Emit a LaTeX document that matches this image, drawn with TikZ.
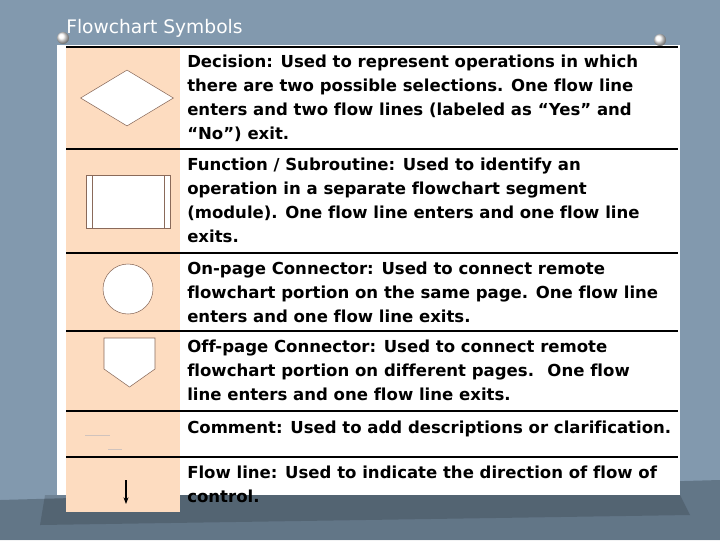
\documentclass[tikz,border=0pt]{standalone}
\usepackage{fontspec}
\setmainfont[Ligatures={NoCommon}]{DejaVu Sans}
\usetikzlibrary{shapes.geometric,arrows.meta}
\definecolor{slate}{HTML}{8299AE}
\definecolor{slatedark}{HTML}{4E5F6E}
\definecolor{peach}{HTML}{FDDCC0}
\definecolor{edgebrown}{HTML}{8A6A5A}
\begin{document}
\begin{tikzpicture}[x=0.75pt,y=-0.75pt,
    symbol/.style={draw=edgebrown,fill=white,line width=0.4pt},
    rowline/.style={line width=1.4pt},
    desc/.style={anchor=north west,align=left,font=\bfseries\fontsize{12.4}{18}\selectfont,inner sep=0pt}]
  \useasboundingbox (0,0) rectangle (720,540);
  \fill[slate] (0,0) rectangle (720,540);
  \fill[slatedark,opacity=0.6] (0,500) -- (720,480) -- (720,540) -- (0,540) -- cycle;
  % paper
  \fill[black,opacity=0.15] (45,495) -- (680,495) -- (690,515) -- (40,525) -- cycle;
  \fill[white] (57,45) rectangle (680,495);
  \node[anchor=west,text=white,font=\fontsize{14}{16}\selectfont,inner sep=0pt] (title) at (66,28) {Flowchart Symbols};
  % pins
  \shade[ball color=white] (63,38) circle (6);
  \shade[ball color=white] (660,40) circle (6);
  % symbol column
  \fill[peach] (66,47) rectangle (180,512);
  \fill[white] (180,47) rectangle (678,495);
  \foreach \yy in {47,149,253,331,411,457}
    \draw[rowline] (66,\yy) -- (678,\yy);
  % symbols
  \node[symbol,diamond,aspect=1.65,minimum width=93*0.75pt,minimum height=56*0.75pt,inner sep=0pt] (decision) at (127,98) {};
  \node[symbol,rectangle,minimum width=84*0.75pt,minimum height=53*0.75pt,inner sep=0pt] (function) at (128,201.5) {};
  \draw[edgebrown,line width=0.4pt] (92,175) -- (92,228) (164,175) -- (164,228);
  \node[symbol,circle,minimum size=50*0.75pt,inner sep=0pt] (onpage) at (128,289) {};
  \draw[symbol] (104,338) -- (155,338) -- (155,369) -- (129.5,387) -- (104,369) -- cycle;
  \coordinate (offpage) at (129.5,360);
  \draw[edgebrown!40,line width=0.5pt] (85,435) -- (110,435) (108,449) -- (122,449);
  \coordinate (flowtop) at (126,480);
  \coordinate (flowend) at (126,504);
  \draw[-{Stealth[length=5pt]},line width=1pt] (flowtop) -- (flowend);
  % descriptions
  \node[desc] (tdecision) at (187,55) {Decision: Used to represent operations in which\\there are two possible selections. One flow line\\enters and two flow lines (labeled as “Yes” and\\“No”) exit.};
  \node[desc] (tfunction) at (187,158) {Function / Subroutine: Used to identify an\\operation in a separate flowchart segment\\(module). One flow line enters and one flow line\\exits.};
  \node[desc] (tonpage) at (187,262) {On-page Connector: Used to connect remote\\flowchart portion on the same page. One flow line\\enters and one flow line exits.};
  \node[desc] (toffpage) at (187,340) {Off-page Connector: Used to connect remote\\flowchart portion on different pages.~ One flow\\line enters and one flow line exits.};
  \node[desc] (tcomment) at (187,421) {Comment: Used to add descriptions or clarification.};
  \node[desc] (tflow) at (187,466) {Flow line: Used to indicate the direction of flow of\\control.};
\end{tikzpicture}
\end{document}
